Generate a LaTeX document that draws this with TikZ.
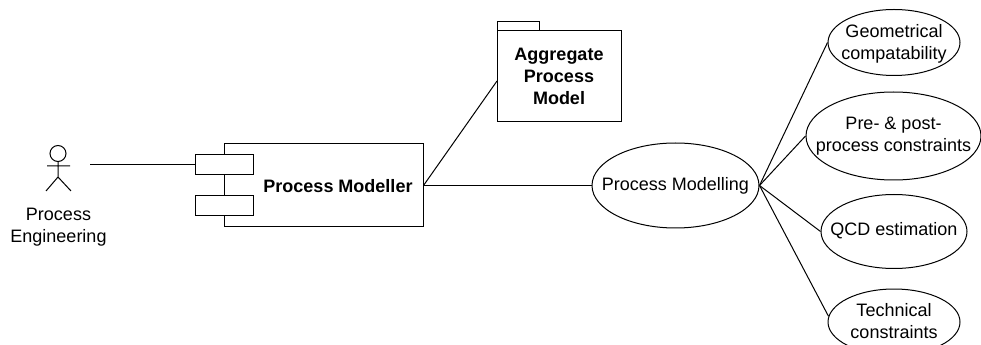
\documentclass[tikz,border=0pt]{standalone}
\usepackage{fontspec}
\usetikzlibrary{shapes.geometric}
\setmainfont{Liberation Sans}
\begin{document}
\begin{tikzpicture}[x=0.75pt,y=-0.75pt,line width=0.75pt,
  lbl/.style={font=\fontsize{13.5}{16.3}\selectfont,align=center,inner sep=0pt},
  blbl/.style={lbl,font=\fontsize{13.5}{16.5}\selectfont\bfseries},
  oval/.style={draw,ellipse,inner sep=0pt},
  box/.style={draw,rectangle,inner sep=0pt,fill=white}]
\useasboundingbox (0,0) rectangle (981,345);
\clip (0,0) rectangle (981,345);
% actor
\node[draw,circle,minimum size=12pt,inner sep=0pt] (head) at (58,153.5) {};
\coordinate (hip) at (58,177);
\coordinate (armL) at (47,166);
\coordinate (armR) at (70,166);
\coordinate (legL) at (46,191);
\coordinate (legR) at (71,191);
\draw (head.south) -- (hip) (armL) -- (armR) (legL) -- (hip) -- (legR);
\node[lbl] (actor) at (58.5,227) {Process\\Engineering};
% component
\node[box,minimum width=149.25pt,minimum height=62.25pt] (comp) at (323.5,185.5) {};
\node[box,minimum width=43.5pt,minimum height=15pt] (portA) at (224,165) {};
\node[box,minimum width=43.5pt,minimum height=15pt] (portB) at (224,206) {};
\node[blbl] (compt) at (338,186) {Process Modeller};
% package
\node[box,minimum width=31.5pt,minimum height=6.75pt] (tab) at (518,26.5) {};
\node[box,minimum width=93pt,minimum height=68.25pt,blbl] (pkg) at (559,76.5) {Aggregate\\Process\\Model};
% use cases
\node[oval,minimum width=125.25pt,minimum height=63.75pt] (pm) at (675.5,185.5) {};
\node[oval,minimum width=99pt,minimum height=49.5pt] (geo) at (894,42.5) {};
\node[oval,minimum width=131.25pt,minimum height=66pt] (pre) at (893.5,136) {};
\node[oval,minimum width=109.5pt,minimum height=55.5pt] (qcd) at (894,231.5) {};
\node[oval,minimum width=99pt,minimum height=49.5pt] (tech) at (894,322) {};
\node[lbl] (pmt) at (675.5,186) {Process Modelling};
\node[lbl] (geot) at (894,44) {Geometrical\\compatability};
\node[lbl] (pret) at (893.5,136) {Pre- \& post-\\process constraints};
\node[lbl] (qcdt) at (894,231) {QCD estimation};
\node[lbl] (techt) at (894,321) {Technical\\constraints};
% connectors
\coordinate (actorEnd) at (90,165);
\coordinate (pkgIn) at (497,81);
\draw (actorEnd) -- (portA.west);
\draw (comp.east) -- (pkgIn);
\draw (comp.east) -- (pm.west);
\draw (pm.east) -- (geo.west);
\draw (pm.east) -- (pre.west);
\draw (pm.east) -- (qcd.west);
\draw (pm.east) -- (tech.175);
\end{tikzpicture}
\end{document}
